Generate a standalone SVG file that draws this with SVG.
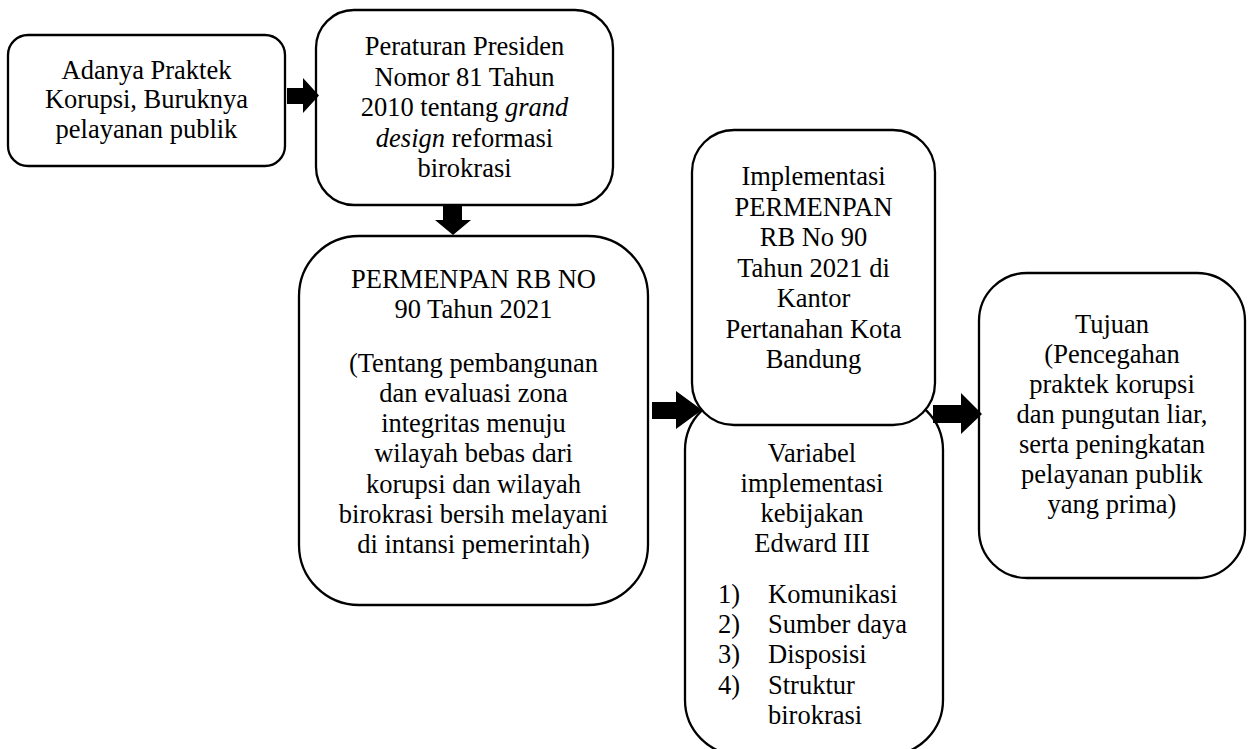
<svg xmlns="http://www.w3.org/2000/svg" width="1252" height="749" viewBox="0 0 1252 749">
<style>
.box{fill:#fff;stroke:#000;stroke-width:2.3}
.t{font-family:"Liberation Serif","Times New Roman",serif;font-size:26.5px;fill:#000;text-anchor:middle}
.l{font-family:"Liberation Serif","Times New Roman",serif;font-size:26.5px;fill:#000}
.arr{fill:#000;stroke:none}
</style>
<rect width="1252" height="749" fill="#fff"/>
<g id="node-praktek">
<rect class="box" x="8" y="35" width="277" height="131" rx="20"/>
<text class="t" x="146.5" y="78.5">Adanya Praktek</text>
<text class="t" x="146.5" y="108">Korupsi, Buruknya</text>
<text class="t" x="146.5" y="137.5">pelayanan publik</text>
</g>
<g id="node-perpres">
<rect class="box" x="316" y="10" width="297" height="195" rx="38"/>
<text class="t" x="464.5" y="55">Peraturan Presiden</text>
<text class="t" x="464.5" y="85.5">Nomor 81 Tahun</text>
<text class="t" x="464.5" y="116">2010 tentang <tspan font-style="italic">grand</tspan></text>
<text class="t" x="464.5" y="146.5"><tspan font-style="italic">design</tspan> reformasi</text>
<text class="t" x="464.5" y="177">birokrasi</text>
</g>
<g id="node-permenpan">
<rect class="box" x="299" y="236" width="349" height="369" rx="60"/>
<text class="t" x="473.5" y="288">PERMENPAN RB NO</text>
<text class="t" x="473.5" y="318">90 Tahun 2021</text>
<text class="t" x="473.5" y="372">(Tentang pembangunan</text>
<text class="t" x="473.5" y="402">dan evaluasi zona</text>
<text class="t" x="473.5" y="432">integritas menuju</text>
<text class="t" x="473.5" y="462">wilayah bebas dari</text>
<text class="t" x="473.5" y="493">korupsi dan wilayah</text>
<text class="t" x="473.5" y="523">birokrasi bersih melayani</text>
<text class="t" x="473.5" y="553">di intansi pemerintah)</text>
</g>
<g id="node-variabel">
<rect class="box" x="685" y="395" width="258" height="360" rx="55"/>
<text class="t" x="812" y="462">Variabel</text>
<text class="t" x="812" y="492">implementasi</text>
<text class="t" x="812" y="522">kebijakan</text>
<text class="t" x="812" y="552">Edward III</text>
<text class="l" x="718" y="603">1)</text><text class="l" x="768" y="603">Komunikasi</text>
<text class="l" x="718" y="633">2)</text><text class="l" x="768" y="633">Sumber daya</text>
<text class="l" x="718" y="663">3)</text><text class="l" x="768" y="663">Disposisi</text>
<text class="l" x="718" y="694">4)</text><text class="l" x="768" y="694">Struktur</text>
<text class="l" x="768" y="724">birokrasi</text>
</g>
<g id="node-implementasi">
<rect class="box" x="692" y="130" width="243" height="295" rx="42"/>
<text class="t" x="813.5" y="185">Implementasi</text>
<text class="t" x="813.5" y="215.5">PERMENPAN</text>
<text class="t" x="813.5" y="246">RB No 90</text>
<text class="t" x="813.5" y="276.5">Tahun 2021 di</text>
<text class="t" x="813.5" y="307">Kantor</text>
<text class="t" x="813.5" y="337.5">Pertanahan Kota</text>
<text class="t" x="813.5" y="368">Bandung</text>
</g>
<g id="node-tujuan">
<rect class="box" x="979" y="273" width="266" height="305" rx="48"/>
<text class="t" x="1112" y="333">Tujuan</text>
<text class="t" x="1112" y="363">(Pencegahan</text>
<text class="t" x="1112" y="393">praktek korupsi</text>
<text class="t" x="1112" y="423">dan pungutan liar,</text>
<text class="t" x="1112" y="453">serta peningkatan</text>
<text class="t" x="1112" y="483">pelayanan publik</text>
<text class="t" x="1112" y="513">yang prima)</text>
</g>
<g id="connectors">
<polygon class="arr" points="287,88 303,88 303,78 319,95.5 303,113 303,104 287,104"/>
<polygon class="arr" points="443,204 462,204 462,220 471,220 453,235 435,220 443,220"/>
<polygon class="arr" points="652,402 676,402 676,391 702,410 676,429 676,419 652,419"/>
<polygon class="arr" points="933,405 961,405 961,393 982,414 961,434 961,423 933,423"/>
</g>
</svg>
